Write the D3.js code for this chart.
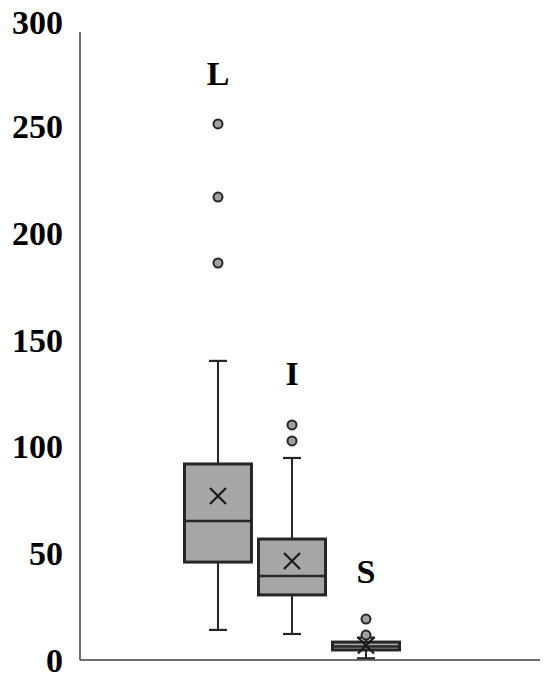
<!DOCTYPE html>
<html>
<head>
<meta charset="utf-8">
<script src="https://cdn.jsdelivr.net/npm/d3@7"></script>
<style>
  body { margin: 0; background: #fff; }
  text { font-family: "Liberation Serif", "Times New Roman", serif; font-weight: bold; fill: #000; }
</style>
</head>
<body>
<svg id="chart" width="550" height="682"></svg>
<script>
// groups and box statistics
let groups		= ['L', 'I', 'S'];
let lowWhisker	= [14.1, 12.2, 0.8];
let q1			= [45.9, 30.5, 4.7];
let median		= [65.2, 39.4, 6.3];
let q3			= [91.9, 56.7, 8.4];
let highWhisker	= [140.2, 94.7, 10.5];
let means		= [76.9, 46.4, 6.8];
let outliers	= [[186.1, 217, 251.3], [102.7, 110.2], [11.7, 19.2]];
let labelAt		= [274.7, 134.5, 41.3];
let yTicks		= [0, 50, 100, 150, 200, 250, 300];

let svg		= d3.select('#chart');

let y		= d3.scaleLinear().domain([0, 300]).range([660, 20]);
let x		= d3.scaleBand().domain(groups).range([184.5, 399.5]).paddingInner(0.095);

let dark	= '#262626';

// axes
svg.append('line').attr('x1', 80).attr('x2', 80).attr('y1', 32).attr('y2', y(0)).style('stroke', '#404040').style('stroke-width', 1.5);
svg.append('line').attr('x1', 80).attr('x2', 540).attr('y1', y(0)).attr('y2', y(0)).style('stroke', '#404040').style('stroke-width', 1.5);

svg.append('g').selectAll('text').data(yTicks).join('text')
	.attr('x', 63).attr('y', d => y(d) + (d == 300 ? 2 : 0)).attr('text-anchor', 'end').attr('dominant-baseline', 'central')
	.style('font-size', '34px').text(d => d);

let boxes	= svg.append('g').selectAll('g').data(groups).join('g')
	.attr('transform', d => 'translate(' + (x(d) + x.bandwidth() / 2) + ',0)');

let bw		= x.bandwidth();
let cap		= 9;

// whiskers
boxes.append('line').attr('x1', 0).attr('x2', 0).attr('y1', (d, i) => y(highWhisker[i])).attr('y2', (d, i) => y(lowWhisker[i])).style('stroke', dark).style('stroke-width', 2);
boxes.append('line').attr('x1', -cap).attr('x2', cap).attr('y1', (d, i) => y(highWhisker[i])).attr('y2', (d, i) => y(highWhisker[i])).style('stroke', dark).style('stroke-width', 2.2);
boxes.append('line').attr('x1', -cap).attr('x2', cap).attr('y1', (d, i) => y(lowWhisker[i])).attr('y2', (d, i) => y(lowWhisker[i])).style('stroke', dark).style('stroke-width', 2.2);

// box
boxes.append('rect').attr('x', -bw / 2).attr('width', bw)
	.attr('y', (d, i) => y(q3[i])).attr('height', (d, i) => y(q1[i]) - y(q3[i]))
	.style('fill', '#a6a6a6').style('stroke', dark).style('stroke-width', 3);
boxes.append('line').attr('x1', -bw / 2).attr('x2', bw / 2).attr('y1', (d, i) => y(median[i])).attr('y2', (d, i) => y(median[i])).style('stroke', dark).style('stroke-width', 2.5);

// mean marker
boxes.append('path').attr('d', (d, i) => { let m = y(means[i]), s = 8; return 'M' + (-s) + ',' + (m - s) + 'L' + s + ',' + (m + s) + 'M' + s + ',' + (m - s) + 'L' + (-s) + ',' + (m + s); })
	.style('stroke', '#1a1a1a').style('stroke-width', 2.2).style('fill', 'none');

// outliers
boxes.each(function (d, i) {
	d3.select(this).selectAll('circle').data(outliers[i]).join('circle')
		.attr('cx', 0).attr('cy', v => y(v)).attr('r', 4.5)
		.style('fill', '#a0a0a0').style('stroke', dark).style('stroke-width', 2);
});

// group labels
boxes.append('text').attr('x', 0).attr('y', (d, i) => y(labelAt[i])).attr('text-anchor', 'middle').attr('dominant-baseline', 'central')
	.style('font-size', '34px').text(d => d);
</script>
</body>
</html>
